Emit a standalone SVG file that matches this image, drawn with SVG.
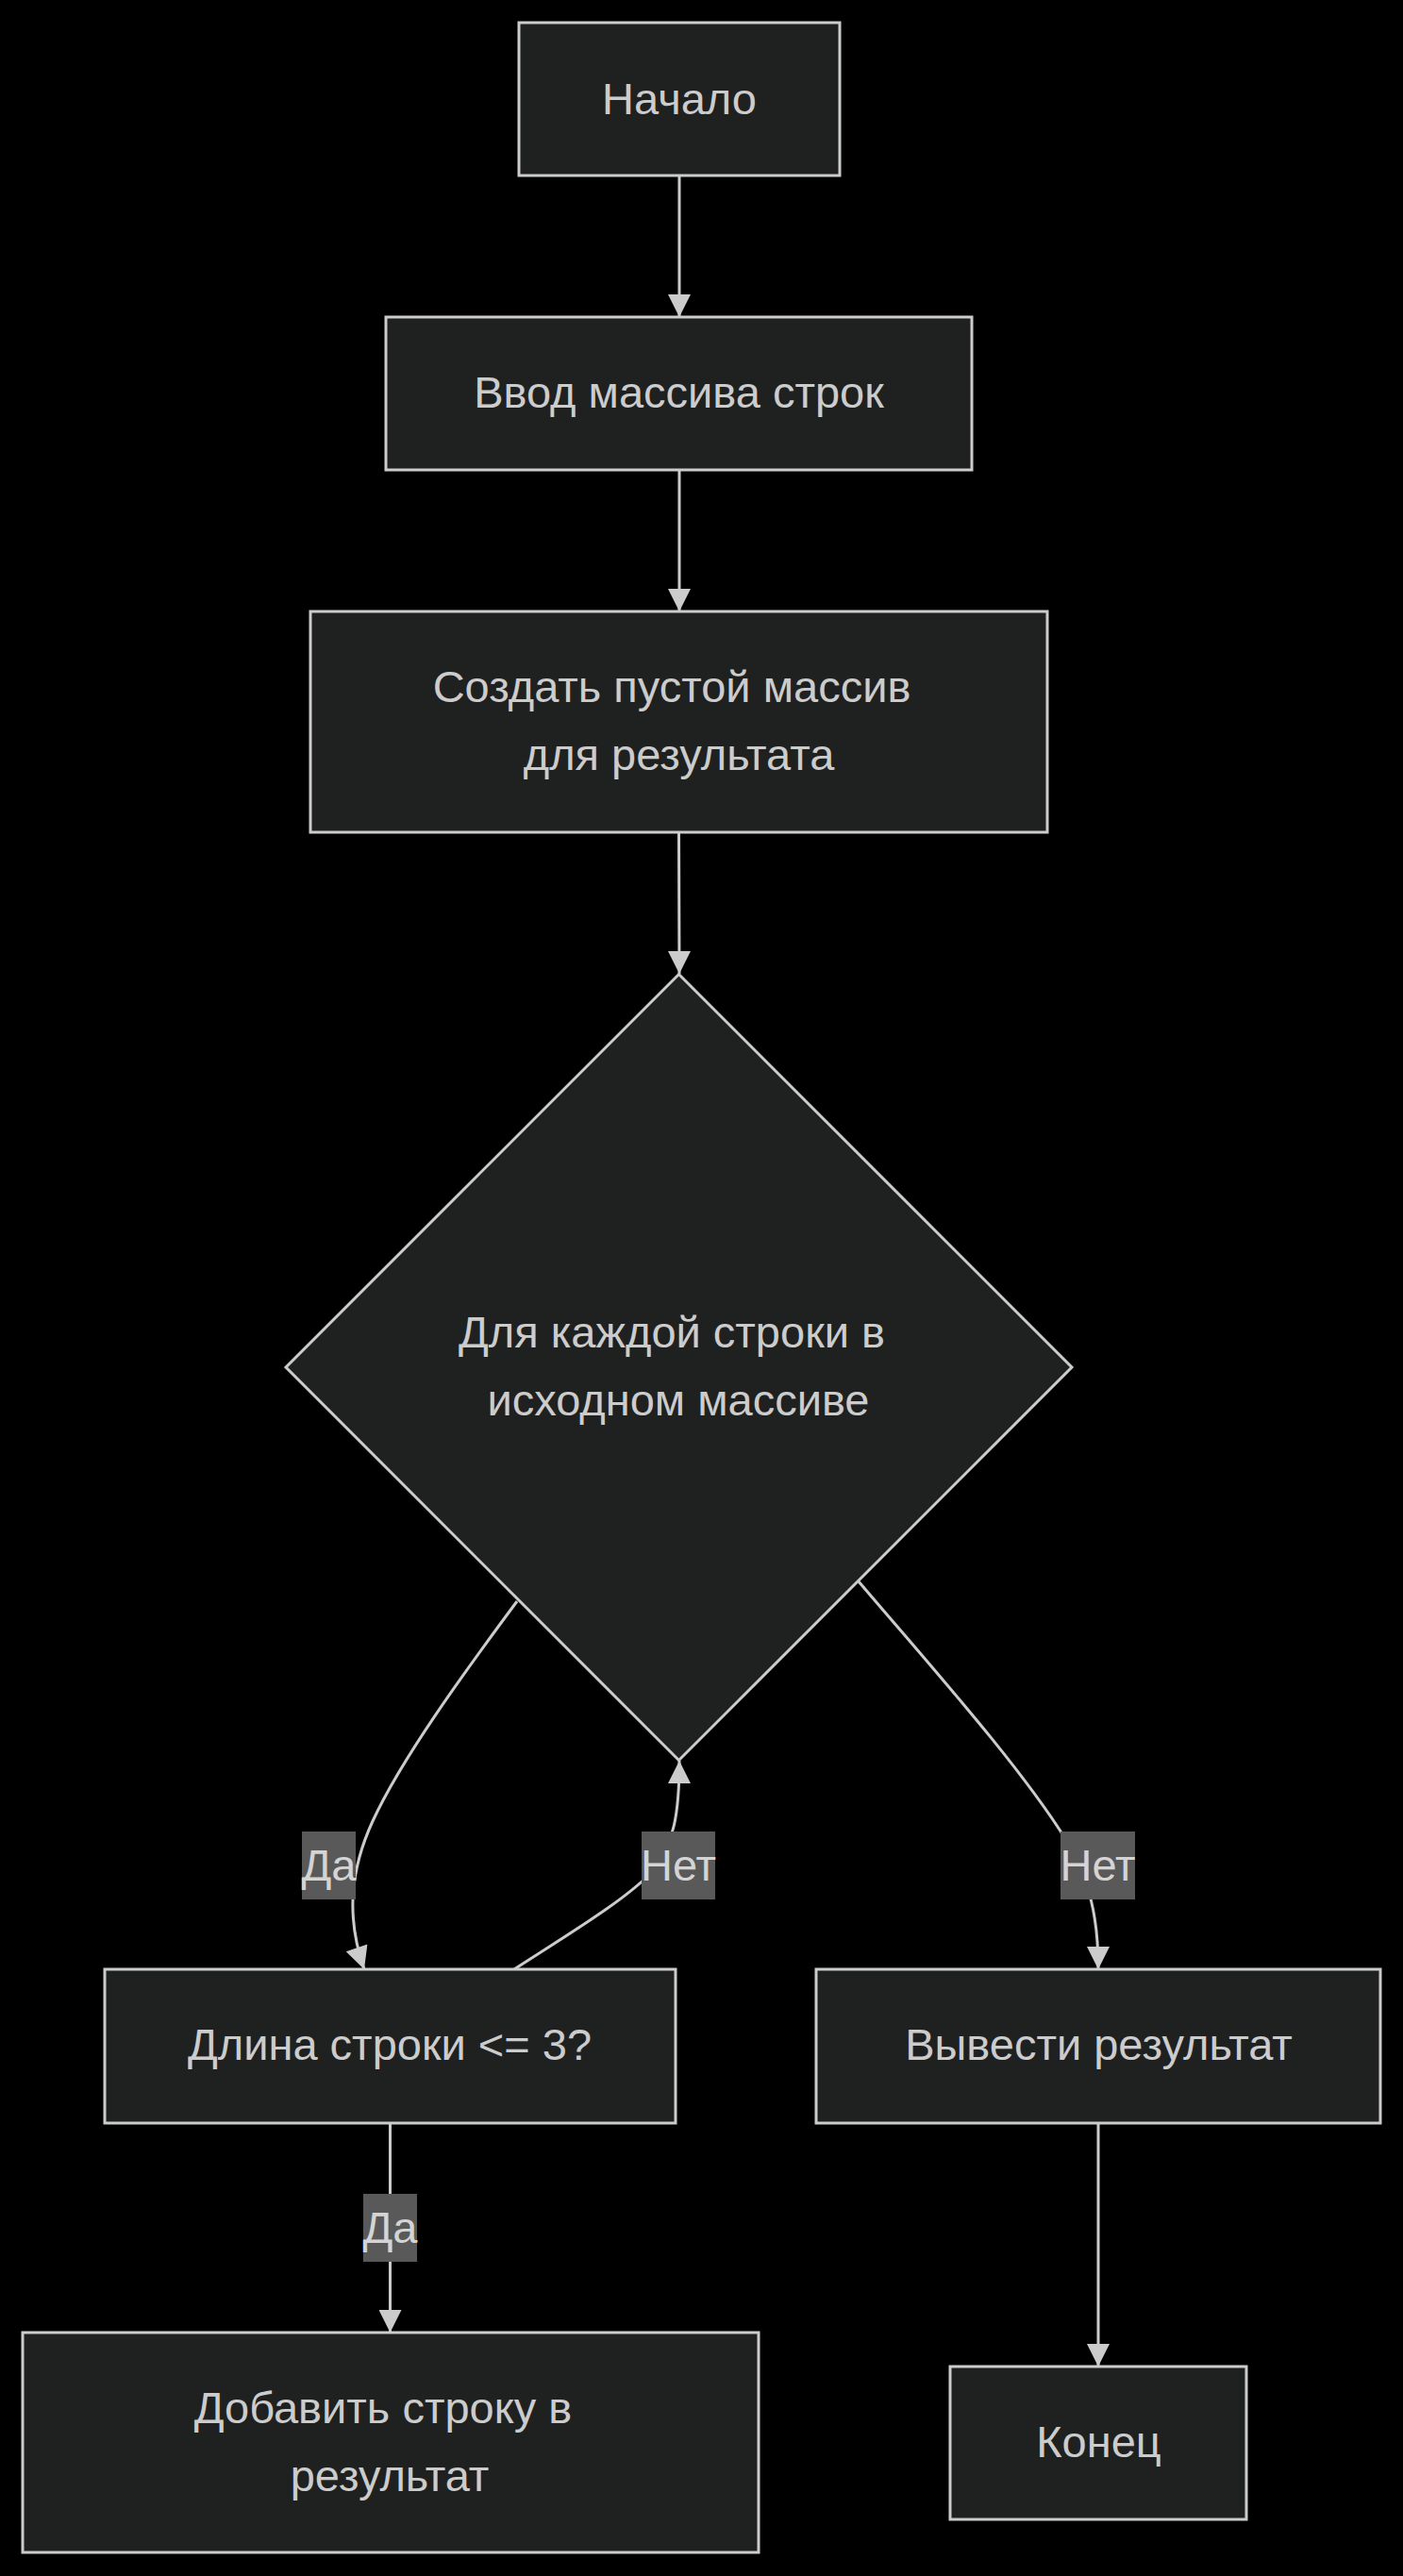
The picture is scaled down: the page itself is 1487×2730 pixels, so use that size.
<svg xmlns="http://www.w3.org/2000/svg" width="1487" height="2730" viewBox="0 0 1487 2730">
<style>
.node rect,.node polygon{fill:#1f2020;stroke:#cccccc;stroke-width:3}
.t{font-family:"Liberation Sans",Arial,sans-serif;font-size:47px;fill:#cccccc;text-anchor:middle}
.edge{fill:none;stroke:#cccccc;stroke-width:3}
.lbl rect{fill:#595959}
.lbl text{font-family:"Liberation Sans",Arial,sans-serif;font-size:47px;fill:#d4d4d4;text-anchor:middle}
</style>
<defs>
<marker id="arr" viewBox="0 0 10 10" refX="10" refY="5" markerUnits="userSpaceOnUse" markerWidth="26" markerHeight="24" orient="auto">
<path d="M0,0 L10,5 L0,10 z" fill="#cccccc"/>
</marker>
</defs>
<rect x="0" y="0" width="1487" height="2730" fill="#000000"/>
<g id="connectors">
<path class="edge" d="M720,186 L720,336" marker-end="url(#arr)"/>
<path class="edge" d="M720,498 L720,648" marker-end="url(#arr)"/>
<path class="edge" d="M719.5,882 C719.5,950 720,990 720,1032" marker-end="url(#arr)"/>
<path class="edge" d="M548,1697 C490,1775 425,1865 395,1930 C372,1980 366,2030 386,2087" marker-end="url(#arr)"/>
<path class="edge" d="M545,2087 C610,2045 660,2015 690,1985 C715,1955 720,1920 720,1866" marker-end="url(#arr)"/>
<path class="edge" d="M910,1676 C990,1770 1080,1870 1130,1950 C1155,1995 1164,2030 1164,2087" marker-end="url(#arr)"/>
<path class="edge" d="M413.5,2250 L413.5,2472" marker-end="url(#arr)"/>
<path class="edge" d="M1164,2250 L1164,2508" marker-end="url(#arr)"/>
</g>
<g id="edge-labels">
<g class="lbl"><rect x="320" y="1941" width="57" height="72"/><text x="348.5" y="1993">Да</text></g>
<g class="lbl"><rect x="680" y="1941" width="78" height="72"/><text x="719" y="1993">Нет</text></g>
<g class="lbl"><rect x="1124" y="1941" width="79" height="72"/><text x="1163.5" y="1993">Нет</text></g>
<g class="lbl"><rect x="385" y="2325" width="57" height="72"/><text x="413.5" y="2377">Да</text></g>
</g>
<g id="start" class="node"><rect x="550" y="24" width="340" height="162"/><text class="t" x="720" y="121">Начало</text></g>
<g id="input" class="node"><rect x="409" y="336" width="621" height="162"/><text class="t" x="719.5" y="432">Ввод массива строк</text></g>
<g id="create" class="node"><rect x="329" y="648" width="781" height="234"/><text class="t" x="712" y="744">Создать пустой массив</text><text class="t" x="719.5" y="816">для результата</text></g>
<g id="loop" class="node"><polygon points="719.5,1032.5 1136,1449 719.5,1865.5 303,1449"/><text class="t" x="712" y="1428">Для каждой строки в</text><text class="t" x="719" y="1500">исходном массиве</text></g>
<g id="check" class="node"><rect x="111" y="2087" width="605" height="163"/><text class="t" x="413" y="2183">Длина строки &lt;= 3?</text></g>
<g id="output" class="node"><rect x="865" y="2087" width="598" height="163"/><text class="t" x="1164.5" y="2183">Вывести результат</text></g>
<g id="add" class="node"><rect x="24" y="2472" width="780" height="233"/><text class="t" x="406" y="2568">Добавить строку в</text><text class="t" x="413" y="2640">результат</text></g>
<g id="end" class="node"><rect x="1007" y="2508" width="314" height="162"/><text class="t" x="1164.5" y="2604">Конец</text></g>
</svg>
